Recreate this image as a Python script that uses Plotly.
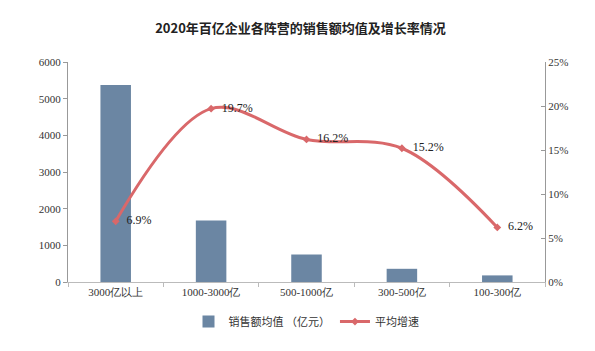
import plotly.graph_objects as go

categories = ["3000亿以上", "1000-3000亿", "500-1000亿", "300-500亿", "100-300亿"]
sales_avg = [5370, 1680, 750, 360, 180]
growth = [6.9, 19.7, 16.2, 15.2, 6.2]
growth_labels = ["6.9%", "19.7%", "16.2%", "15.2%", "6.2%"]

fig = go.Figure()
fig.add_trace(go.Bar(
    x=categories, y=sales_avg, name="销售额均值 （亿元）",
    marker=dict(color="#6B86A3", line=dict(width=0)), width=0.32,
))
fig.add_trace(go.Scatter(
    x=categories, y=growth, name="平均增速", yaxis="y2",
    mode="lines+markers+text", text=["  " + t for t in growth_labels],
    textposition="middle right",
    textfont=dict(family="Liberation Serif", size=12, color="#222"),
    line=dict(color="#D9686A", width=3, shape="spline", smoothing=1.0),
    marker=dict(symbol="diamond", size=6, color="#D9686A"),
    cliponaxis=False,
))

axis_font = dict(family="Liberation Serif", size=11, color="#333")
fig.update_layout(
    width=595, height=351,
    margin=dict(l=68, r=50, t=62, b=69, autoexpand=False),
    paper_bgcolor="white", plot_bgcolor="white",
    title=dict(text="<b>2020年百亿企业各阵营的销售额均值及增长率情况</b>",
               x=0.505, xanchor="center", y=0.92, yanchor="middle",
               font=dict(family="Noto Sans CJK SC", size=13, color="#222")),
    xaxis=dict(showline=True, linecolor="#BBBBBB", linewidth=1, ticks="outside",
               tickson="boundaries", ticklen=4, tickcolor="#BBBBBB",
               tickfont=axis_font, showgrid=False),
    yaxis=dict(range=[0, 6000], dtick=1000, showline=True, linecolor="#999999",
               ticks="outside", ticklen=4, tickcolor="#999999", tickfont=axis_font,
               showgrid=False, zeroline=False),
    yaxis2=dict(range=[0, 25], dtick=5, overlaying="y", side="right", ticksuffix="%",
                showline=True, linecolor="#999999", ticks="inside", ticklen=4,
                tickcolor="#999999", tickfont=axis_font, showgrid=False, zeroline=False),
    legend=dict(orientation="h", x=0.5, xanchor="center", y=-0.18, yanchor="middle",
                font=dict(family="Noto Sans CJK SC", size=11, color="#333"),
                traceorder="normal"),
    bargap=0.68,
)
fig.write_html("out.html")
